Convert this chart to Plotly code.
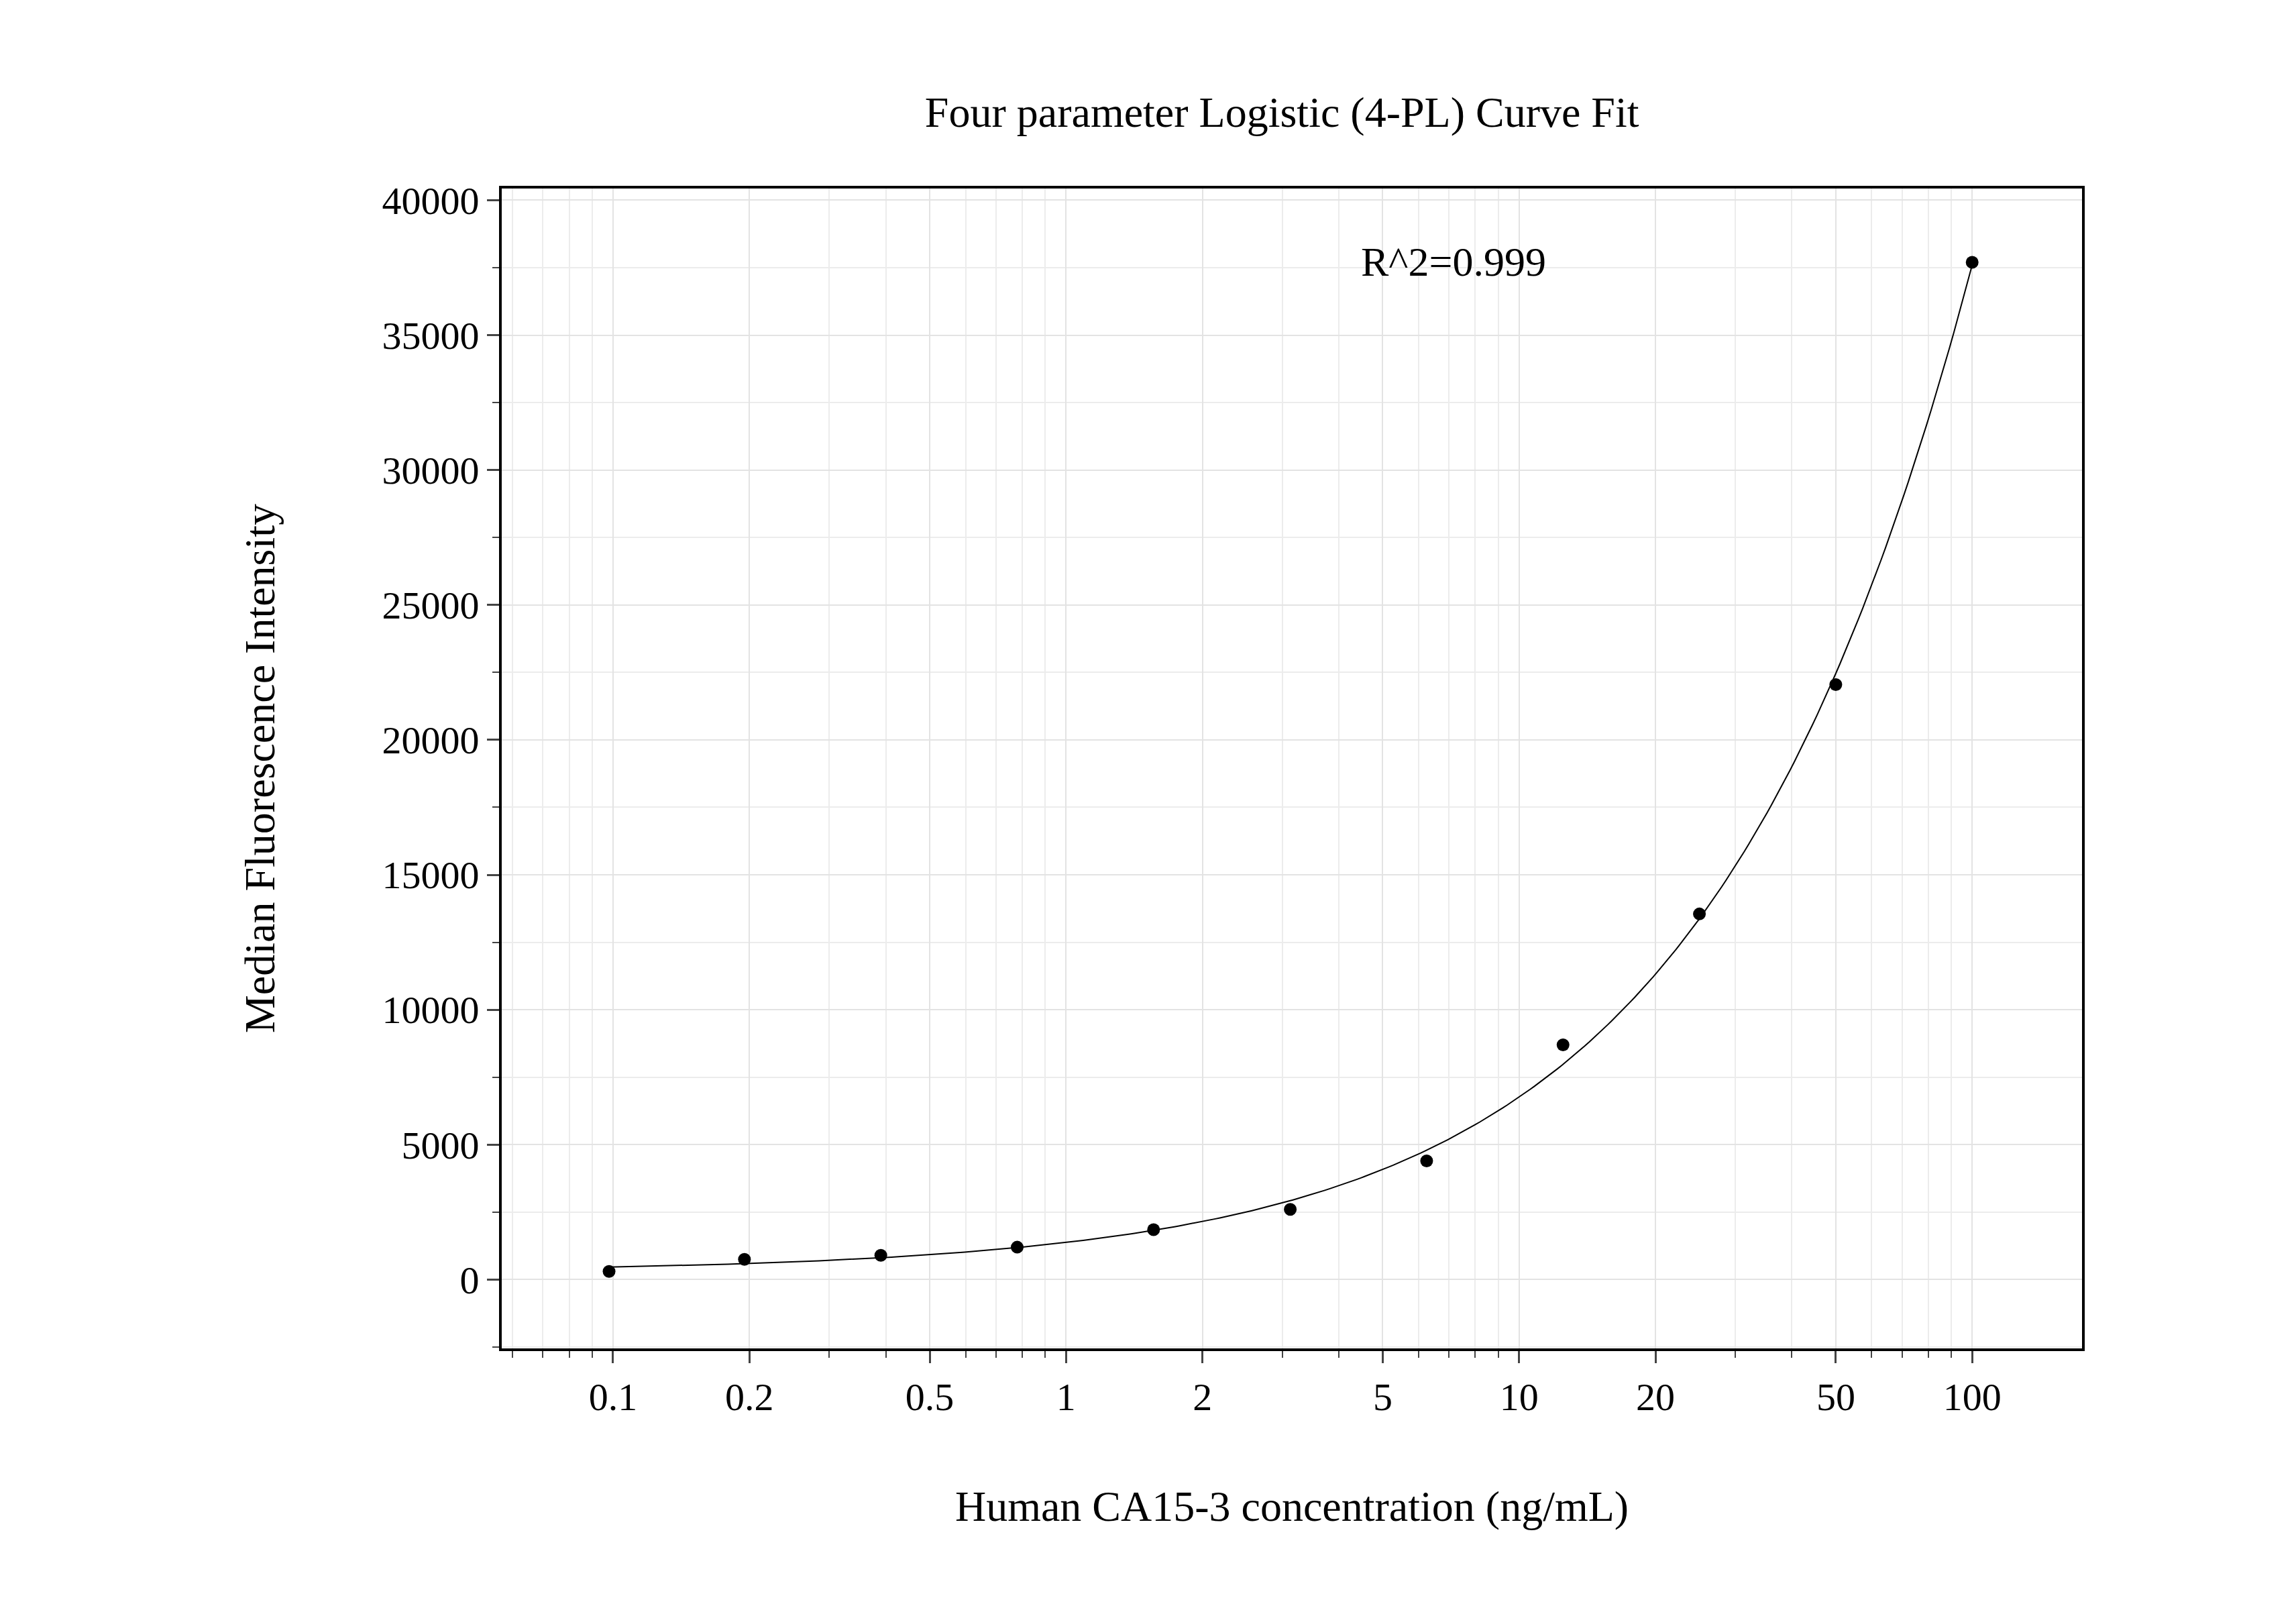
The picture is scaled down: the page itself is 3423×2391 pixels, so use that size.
import numpy as np
import plotly.graph_objects as go

conc = [0.098, 0.195, 0.39, 0.78, 1.56, 3.125, 6.25, 12.5, 25, 50, 100]
mfi = [300, 750, 900, 1200, 1850, 2600, 4400, 8700, 13550, 22050, 37700]
x_ticks = [0.1, 0.2, 0.5, 1, 2, 5, 10, 20, 50, 100]
x_ticktext = ["0.1", "0.2", "0.5", "1", "2", "5", "10", "20", "50", "100"]
y_ticks = [0, 5000, 10000, 15000, 20000, 25000, 30000, 35000, 40000]
y_ticktext = ["0", "5000", "10000", "15000", "20000", "25000", "30000", "35000", "40000"]

# 4-PL fit: grid search over B, C; linear least squares for A, D
xd = np.array(conc); yd = np.array(mfi, float)
best = None
for B in np.linspace(0.5, 2.5, 81):
    for C in np.logspace(0, 4, 161):
        f = 1 / (1 + (xd / C) ** B)
        M = np.vstack([f, 1 - f]).T
        coef, *_ = np.linalg.lstsq(M, yd, rcond=None)
        r = np.sum((M @ coef - yd) ** 2)
        if best is None or r < best[0]:
            best = (r, B, C, coef)
_, B, C, (A, D) = best
xc = np.logspace(np.log10(0.098), 2, 300)
yc = D + (A - D) / (1 + (xc / C) ** B)

font = "Liberation Serif"
fig = go.Figure()
fig.add_trace(go.Scatter(x=xc, y=yc, mode="lines", line=dict(color="black", width=2), showlegend=False))
fig.add_trace(go.Scatter(x=conc, y=mfi, mode="markers", marker=dict(color="black", size=19), showlegend=False))

fig.update_layout(
    width=3423, height=2391, paper_bgcolor="white", plot_bgcolor="white",
    margin=dict(l=740, r=3423 - 3096, t=273, b=2391 - 2002),
    font=dict(family=font, size=58, color="black"),
    title=dict(text="Four parameter Logistic (4-PL) Curve Fit", x=0.556, xanchor="center",
               y=1 - 159 / 2391, yanchor="middle", font=dict(size=64)),
    annotations=[dict(text="R^2=0.999", xref="paper", yref="paper", x=0.543, y=0.937,
                      xanchor="left", yanchor="middle", showarrow=False, font=dict(size=62))],
)
fig.update_xaxes(
    type="log", range=[-1.2457, 2.2425], tickvals=x_ticks, ticktext=x_ticktext,
    ticks="outside", ticklen=18, tickwidth=3, showline=True, linewidth=4, linecolor="black", mirror=True,
    showgrid=True, gridcolor="#e3e3e3", gridwidth=2,
    minor=dict(ticks="outside", ticklen=10, tickwidth=2, showgrid=True, gridcolor="#ececec", dtick="D1"),
    title=dict(text="Human CA15-3 concentration (ng/mL)", font=dict(size=64), standoff=110),
)
fig.update_yaxes(
    range=[-2551, 40434], tickvals=y_ticks, ticktext=y_ticktext, ticks="outside", ticklen=18, tickwidth=3,
    showline=True, linewidth=4, linecolor="black", mirror=True,
    showgrid=True, gridcolor="#e3e3e3", gridwidth=2, zeroline=False,
    minor=dict(ticks="outside", ticklen=10, tickwidth=2, dtick=2500, showgrid=True, gridcolor="#ececec"),
    title=dict(text="Median Fluorescence Intensity", font=dict(size=64), standoff=140),
)
fig.write_html("out.html")
